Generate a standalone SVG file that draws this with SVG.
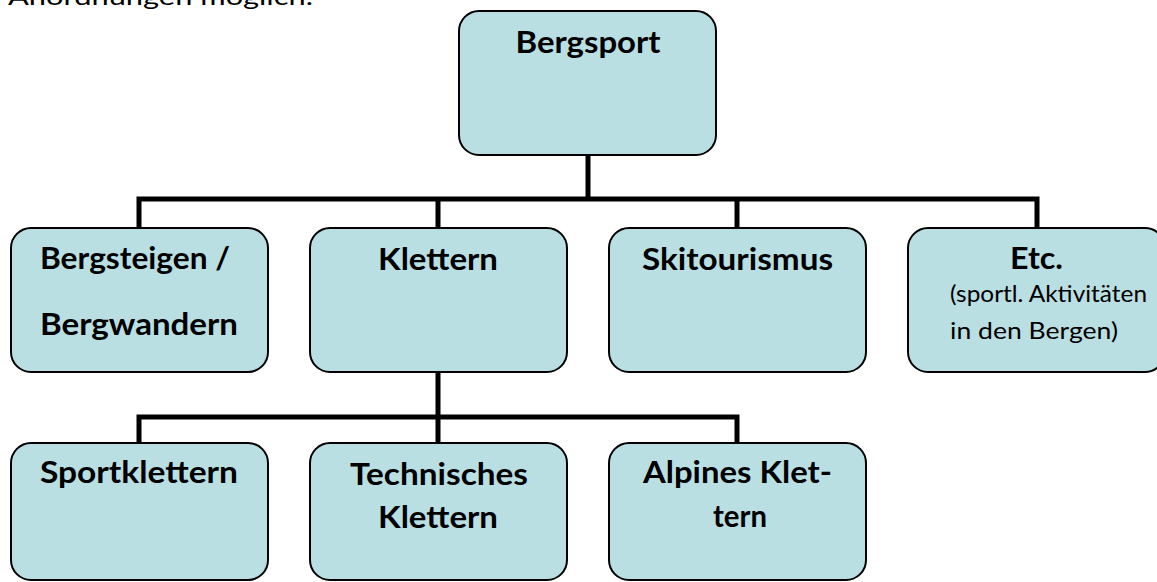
<svg xmlns="http://www.w3.org/2000/svg" width="1157" height="582" viewBox="0 0 1157 582">
<style>
.box{fill:#B9DFE3;stroke:#000;stroke-width:2}
.b{font-family:Lato,"Liberation Sans",sans-serif;font-weight:bold;font-size:30px;fill:#000}
.r{font-family:Lato,"Liberation Sans",sans-serif;font-size:24px;fill:#000}
.m{text-anchor:middle}
.con{fill:none;stroke:#000;stroke-width:5;stroke-linejoin:miter}
</style>
<rect width="1157" height="582" fill="#fff"/>
<text class="r" x="8" y="5" textLength="305" lengthAdjust="spacingAndGlyphs">Anordnungen möglich.</text>
<g id="connectors">
<path class="con" d="M588 155 V199"/>
<path class="con" d="M139 228 V199 H1037 V228"/>
<path class="con" d="M438 199 V228"/>
<path class="con" d="M737 199 V228"/>
<path class="con" d="M438 372 V417"/>
<path class="con" d="M139 443 V417 H737 V443"/>
<path class="con" d="M438 417 V443"/>
</g>
<g id="bergsport">
<rect class="box" x="459" y="11" width="257" height="144" rx="20"/>
<text class="b m" x="588" y="53" textLength="145" lengthAdjust="spacingAndGlyphs">Bergsport</text>
</g>
<g id="bergsteigen">
<rect class="box" x="11" y="228" width="257" height="144" rx="20"/>
<text class="b" x="40" y="269" textLength="190" lengthAdjust="spacingAndGlyphs">Bergsteigen /</text>
<text class="b m" x="139" y="335" textLength="198" lengthAdjust="spacingAndGlyphs">Bergwandern</text>
</g>
<g id="klettern">
<rect class="box" x="310" y="228" width="257" height="144" rx="20"/>
<text class="b m" x="438" y="270" textLength="120" lengthAdjust="spacingAndGlyphs">Klettern</text>
</g>
<g id="skitourismus">
<rect class="box" x="609" y="228" width="257" height="144" rx="20"/>
<text class="b m" x="737.5" y="270" textLength="191" lengthAdjust="spacingAndGlyphs">Skitourismus</text>
</g>
<g id="etc">
<rect class="box" x="908" y="228" width="257" height="144" rx="20"/>
<text class="b m" x="1036.5" y="269" textLength="53" lengthAdjust="spacingAndGlyphs">Etc.</text>
<text class="r" x="950" y="302" textLength="197" lengthAdjust="spacingAndGlyphs">(sportl. Aktivitäten</text>
<text class="r m" x="1034" y="339" textLength="168" lengthAdjust="spacingAndGlyphs">in den Bergen)</text>
</g>
<g id="sportklettern">
<rect class="box" x="11" y="443" width="257" height="137" rx="20"/>
<text class="b m" x="139" y="483" textLength="198" lengthAdjust="spacingAndGlyphs">Sportklettern</text>
</g>
<g id="technisches">
<rect class="box" x="310" y="443" width="257" height="137" rx="20"/>
<text class="b m" x="439" y="485" textLength="178" lengthAdjust="spacingAndGlyphs">Technisches</text>
<text class="b m" x="438" y="528" textLength="120" lengthAdjust="spacingAndGlyphs">Klettern</text>
</g>
<g id="alpines">
<rect class="box" x="609" y="443" width="257" height="137" rx="20"/>
<text class="b m" x="737.5" y="483" textLength="189" lengthAdjust="spacingAndGlyphs">Alpines Klet-</text>
<text class="b m" x="740" y="527" textLength="54" lengthAdjust="spacingAndGlyphs">tern</text>
</g>
</svg>
